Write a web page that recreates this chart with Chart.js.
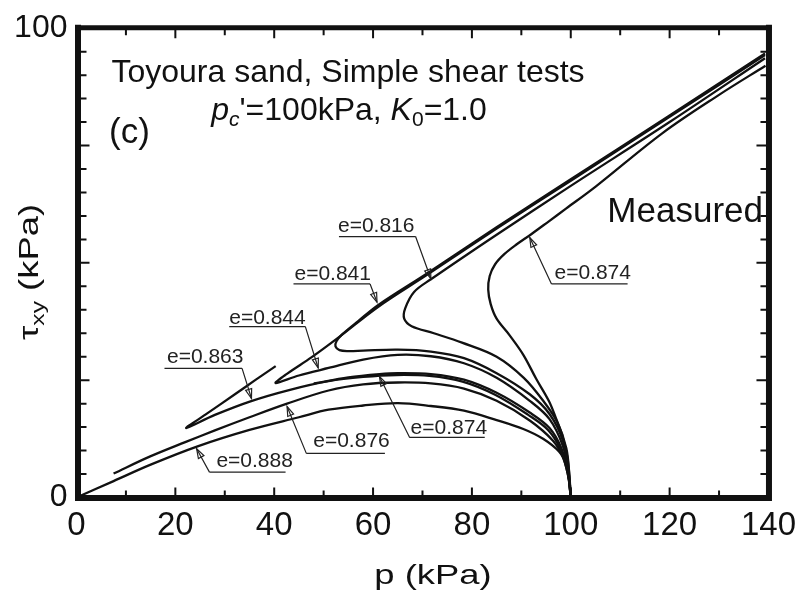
<!DOCTYPE html>
<html>
<head>
<meta charset="utf-8">
<title>Toyoura sand, simple shear</title>
<script src="https://cdn.jsdelivr.net/npm/chart.js@4.4.1/dist/chart.umd.min.js"></script>
<style>
  html, body { margin: 0; padding: 0; background: #fff; }
  #wrap { width: 805px; height: 597px; }
</style>
</head>
<body>
<div id="wrap"><canvas id="chart"></canvas></div>
<script>
// Stress paths p - tau_xy, one pair of arrays per test (p in kPa, tau in kPa)
const pE816 = [100, 99.7, 99.1, 97.3, 94.5, 90.5, 85, 78, 72.3, 67.8, 66.3, 66.5, 68.3, 71.7, 85, 100, 120, 139.3];
const tE816 = [0, 5, 10.5, 16, 20.5, 25.5, 30.0, 33.0, 35.0, 36.5, 38.1, 40.3, 43.8, 46.5, 56.0, 66.4, 80.0, 93.6];

const pE841 = [100, 99.5, 98.4, 95.7, 91.7, 85, 78.4, 71.7, 65, 58, 55, 53.2, 52.4, 52.6, 53.8, 57, 61, 71, 85, 100, 120, 139.3];
const tE841 = [0, 5, 12.1, 17.8, 22, 26.5, 29.7, 31.1, 31.5, 31.3, 31.2, 31.4, 32.2, 33.3, 34.8, 37.6, 41.0, 47.8, 57.6, 67.8, 81.4, 94.6];

const pE844 = [100, 99.6, 98.4, 95.7, 91.7, 85, 78.4, 71.7, 65, 58, 51, 45, 40.3, 42.5, 47.6, 52.9, 61, 71, 85, 100, 120, 139.3];
const tE844 = [0, 5, 11, 16.7, 20.6, 25.5, 28.6, 30.1, 30.4, 29.4, 27.6, 26.0, 24.4, 26.3, 29.9, 34.0, 40.6, 47.5, 57.3, 67.5, 81.1, 94.3];

const pE863 = [100, 99.4, 97.9, 95.4, 91.4, 84.7, 78.1, 71.4, 64.7, 58, 51, 43, 35.2, 28, 22.2, 26, 32.2, 36, 40.3];
const tE863 = [0, 5, 10.3, 14.4, 17.6, 21.9, 24.7, 25.9, 26.1, 25.7, 24.8, 22.9, 20.5, 17.6, 14.8, 17.6, 22.1, 24.9, 28];

const pE874a = [100, 99.5, 98.1, 95.7, 91.7, 85, 78.4, 71.7, 65, 61.3, 55, 48];
const tE874a = [0, 5, 10.5, 14.8, 18.1, 22.3, 25.1, 26.3, 26.5, 26.3, 25.6, 24.3];

const pE876 = [100, 99.6, 98.4, 96.4, 91.7, 85, 78.4, 71.7, 65, 58, 51, 42.6, 35, 28, 22, 14.8, 7.5];
const tE876 = [0, 4, 8.6, 12.1, 16.4, 20.6, 23.2, 24.3, 24.5, 24.1, 22.8, 20.0, 17.1, 14.3, 11.8, 8.7, 5.1];

const pE888 = [100, 99.7, 99.1, 97.7, 94.4, 90.4, 85, 78.4, 71.7, 65, 58, 51, 45, 35, 24.5, 15, 7.5, 0];
const tE888 = [0, 3.5, 7, 9.7, 12.5, 14.6, 16.5, 18.5, 19.5, 20.1, 19.6, 18.7, 17.1, 14.4, 10.9, 7.0, 3.5, 0];

const pE874b = [100, 99.4, 98.2, 97, 95.6, 93, 90.4, 87.6, 85, 83.8, 83.3, 83.6, 84.7, 86.6, 89, 92, 95.5, 99.1, 105.1, 118.5, 130, 139.4];
const tE874b = [0, 7.9, 13.5, 16.9, 20.5, 25.3, 30.4, 34.6, 38.1, 41.2, 44.3, 47.2, 49.7, 51.9, 53.9, 56.1, 58.8, 61.6, 66.3, 77.6, 85.8, 92.0];

const curves = [
    [pE816, tE816], [pE841, tE841], [pE844, tE844], [pE863, tE863],
    [pE874a, tE874a], [pE876, tE876], [pE888, tE888], [pE874b, tE874b]
];

// Axis ranges and tick spacing
const X_MAX = 140, X_MAJOR = 20, X_MINOR = 10;
const Y_MAX = 100, Y_MAJOR = 25, Y_MINOR = 5;
const yLabelValues = [0, 100];

// Void ratio labels: text, arrow tip on the curve, underline and text anchor (data units)
const eLabels = ['e=0.816', 'e=0.841', 'e=0.844', 'e=0.863', 'e=0.876', 'e=0.888', 'e=0.874', 'e=0.874'];
const tipP = [71.7, 60.8, 48.9, 35.4, 42.6, 24.3, 61.3, 91.7];
const tipT = [46.6, 41.6, 27.6, 21.1, 19.4, 10.4, 25.8, 55.4];

const callouts = [
    { text: [52.9, 56.6], line: [53.1, 68.6, 55.6], from: 'right' },
    { text: [44.1, 46.3], line: [43.9, 59.4, 45.5], from: 'right' },
    { text: [30.9, 37.0], line: [30.9, 46.3, 36.4], from: 'right' },
    { text: [18.3, 28.6], line: [17.8, 33.5, 27.5], from: 'right' },
    { text: [47.9, 10.7], line: [46.5, 62.4, 9.4], from: 'left' },
    { text: [28.3, 6.4], line: [26.9, 42.3, 5.4], from: 'left' },
    { text: [67.6, 13.6], line: [67.4, 82.6, 12.8], from: 'left' },
    { text: [96.7, 46.5], line: [96.1, 111.5, 45.5], from: 'left' }
];

const FONT = "'Liberation Sans', Arial, Helvetica, sans-serif";
const INK = '#111';

// draws a run of text pieces (with subscripts) starting at x
function drawRuns(ctx, runs, x, y) {
    runs.forEach(r => {
        ctx.font = r.font;
        ctx.fillText(r.t, x, y + (r.dy || 0));
        x += ctx.measureText(r.t).width;
    });
    return x;
}
function runsWidth(ctx, runs) {
    let w = 0;
    runs.forEach(r => { ctx.font = r.font; w += ctx.measureText(r.t).width; });
    return w;
}

const framePlugin = {
    id: 'frame',
    afterDatasetsDraw(chart) {
        const { ctx, chartArea: a, scales: { x, y } } = chart;
        ctx.save();
        ctx.strokeStyle = INK;
        ctx.lineWidth = 2;
        ctx.beginPath();
        for (let v = 0; v <= X_MAX; v += X_MINOR) {
            const px = x.getPixelForValue(v);
            const major = v % X_MAJOR === 0;
            ctx.moveTo(px, a.bottom); ctx.lineTo(px, a.bottom - (major ? 10 : 7));
            ctx.moveTo(px, a.top); ctx.lineTo(px, a.top + (major ? 10 : 7));
        }
        for (let v = 0; v <= Y_MAX; v += Y_MINOR) {
            const py = y.getPixelForValue(v);
            const major = v % Y_MAJOR === 0;
            ctx.moveTo(a.left, py); ctx.lineTo(a.left + (major ? 13 : 10), py);
            ctx.moveTo(a.right, py); ctx.lineTo(a.right - (major ? 12 : 8), py);
        }
        ctx.stroke();

        // heavy box round the plot
        ctx.lineCap = 'square';
        ctx.lineWidth = 6;
        ctx.beginPath();
        ctx.moveTo(a.left + 1.5, a.top - 0.5); ctx.lineTo(a.left + 1.5, a.bottom + 0.5);
        ctx.lineTo(a.right + 0.5, a.bottom + 0.5); ctx.lineTo(a.right + 0.5, a.top - 0.5);
        ctx.stroke();
        ctx.lineWidth = 5;
        ctx.beginPath();
        ctx.moveTo(a.left + 1.5, a.top - 0.5); ctx.lineTo(a.right + 0.5, a.top - 0.5);
        ctx.stroke();
        ctx.restore();
    }
};

const textPlugin = {
    id: 'texts',
    afterDraw(chart) {
        const { ctx, scales: { x, y } } = chart;
        ctx.save();
        ctx.fillStyle = INK;
        ctx.textBaseline = 'alphabetic';

        // heading
        ctx.font = `32px ${FONT}`;
        ctx.textAlign = 'center';
        ctx.fillText('Toyoura sand, Simple shear tests', 348, 82);
        ctx.textAlign = 'left';
        const cond = [
            { t: 'p', font: `italic 32px ${FONT}` },
            { t: 'c', font: `italic 21px ${FONT}`, dy: 6 },
            { t: "'=100kPa, ", font: `32px ${FONT}` },
            { t: 'K', font: `italic 32px ${FONT}` },
            { t: '0', font: `21px ${FONT}`, dy: 6 },
            { t: '=1.0', font: `32px ${FONT}` }
        ];
        drawRuns(ctx, cond, 349 - runsWidth(ctx, cond) / 2, 120);

        ctx.font = `35px ${FONT}`;
        ctx.fillText('(c)', 109, 143);
        ctx.textAlign = 'right';
        ctx.fillText('Measured', 763, 222);

        // axis titles, drawn a little wide
        ctx.textAlign = 'left';
        const xt = [{ t: 'p (kPa)', font: `28px ${FONT}` }];
        ctx.save();
        ctx.translate(433, 584);
        ctx.scale(1.3, 1);
        drawRuns(ctx, xt, -runsWidth(ctx, xt) / 2, 0);
        ctx.restore();

        const yt = [
            { t: 'τ', font: `28px ${FONT}` },
            { t: 'xy', font: `19px ${FONT}`, dy: 6 },
            { t: ' (kPa)', font: `28px ${FONT}` }
        ];
        ctx.save();
        ctx.translate(38, 272);
        ctx.rotate(-Math.PI / 2);
        ctx.scale(1.3, 1);
        drawRuns(ctx, yt, -runsWidth(ctx, yt) / 2, 0);
        ctx.restore();

        // void ratio callouts with leader and arrow head
        ctx.font = `21px ${FONT}`;
        ctx.strokeStyle = '#222';
        ctx.fillStyle = '#222';
        eLabels.forEach((label, i) => {
            const c = callouts[i];
            ctx.fillText(label, x.getPixelForValue(c.text[0]), y.getPixelForValue(c.text[1]));
            const lx1 = x.getPixelForValue(c.line[0]);
            const lx2 = x.getPixelForValue(c.line[1]);
            const ly = y.getPixelForValue(c.line[2]);
            const sx = c.from === 'left' ? lx1 : lx2;
            const tx = x.getPixelForValue(tipP[i]);
            const ty = y.getPixelForValue(tipT[i]);
            ctx.lineWidth = 1.2;
            ctx.beginPath();
            ctx.moveTo(lx1, ly); ctx.lineTo(lx2, ly);
            ctx.moveTo(sx, ly); ctx.lineTo(tx, ty);
            ctx.stroke();
            const ang = Math.atan2(ly - ty, sx - tx);
            const L = 10, W = 0.32;
            ctx.beginPath();
            ctx.moveTo(tx, ty);
            ctx.lineTo(tx + L * Math.cos(ang + W), ty + L * Math.sin(ang + W));
            ctx.lineTo(tx + L * Math.cos(ang - W), ty + L * Math.sin(ang - W));
            ctx.closePath();
            ctx.stroke();
        });
        ctx.restore();
    }
};

new Chart(document.getElementById('chart'), {
    type: 'scatter',
    data: {
        datasets: curves.map(([ps, ts]) => ({
            data: ps.map((p, i) => ({ x: p, y: ts[i] })),
            showLine: true,
            borderColor: INK,
            borderWidth: 2.3,
            pointRadius: 0,
            tension: 0.35,
            fill: false
        }))
    },
    options: {
        responsive: true,
        maintainAspectRatio: false,
        animation: false,
        devicePixelRatio: 1,
        layout: { padding: { top: 22.5, right: 29.5, left: 0, bottom: 0 } },
        plugins: { legend: { display: false }, tooltip: { enabled: false } },
        scales: {
            x: {
                type: 'linear',
                min: 0,
                max: X_MAX,
                grid: { display: false, drawTicks: false },
                border: { display: false },
                ticks: {
                    stepSize: X_MAJOR,
                    autoSkip: false,
                    maxRotation: 0,
                    padding: 9,
                    color: INK,
                    font: { family: FONT, size: 33 }
                },
                afterFit: s => { s.height = 99.5; }
            },
            y: {
                type: 'linear',
                min: 0,
                max: Y_MAX,
                grid: { display: false, drawTicks: false },
                border: { display: false },
                afterBuildTicks: s => { s.ticks = yLabelValues.map(v => ({ value: v })); },
                ticks: {
                    padding: 9,
                    color: INK,
                    font: { family: FONT, size: 32 }
                },
                afterFit: s => { s.width = 76.5; }
            }
        }
    },
    plugins: [framePlugin, textPlugin]
});
</script>
</body>
</html>
